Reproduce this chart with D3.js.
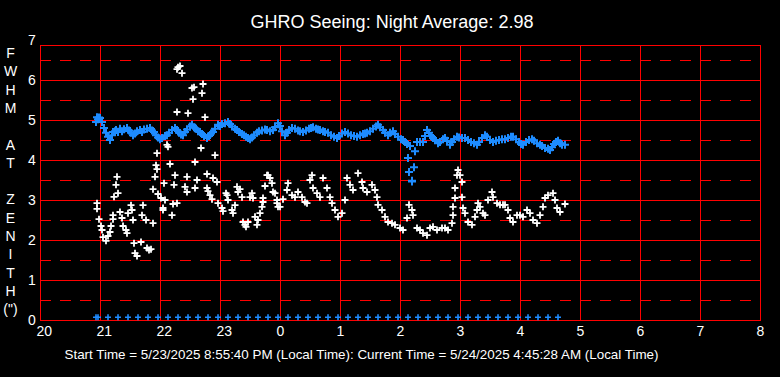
<!DOCTYPE html>
<head>
  <meta charset="utf-8">
  <script src="https://d3js.org/d3.v7.min.js"></script>
  <style>
    body { margin:0; background:#000; }
    svg { display:block; }
    text { font-family: "Liberation Sans", Arial, sans-serif; }
  </style>
</head>
<body>
<script>
  var title = "GHRO Seeing: Night Average: 2.98";
  var footer = "Start Time = 5/23/2025 8:55:40 PM (Local Time): Current Time = 5/24/2025 4:45:28 AM (Local Time)";
  var yLabelLines = ["F", "W", "H", "M", "", "A", "T", "", "Z", "E", "N", "I", "T", "H", "(\")"];
  var hourLabels = [20, 21, 22, 23, 0, 1, 2, 3, 4, 5, 6, 7, 8];
  var yTicks = [0, 1, 2, 3, 4, 5, 6, 7];

  // time = minutes after 20:00 local, value = FWHM (arcsec)
  var bluePoints = [
    [56,4.95],[57,5.07],[58,5.02],[59,5.06],[60,5.05],[62,4.95],[64,4.8],[66,4.68],[68,4.58],[70,4.5],
    [72,4.62],[73,4.7],[75,4.72],[76,4.75],[78,4.7],[80,4.78],[82,4.72],[84,4.77],[87,4.8],[89,4.74],
    [91,4.68],[93,4.62],[95,4.66],[97,4.72],[100,4.75],[102,4.7],[104,4.76],[107,4.78],[110,4.8],[112,4.74],
    [114,4.7],[116,4.62],[118,4.56],[120,4.52],[122,4.55],[125,4.6],[127,4.62],[129,4.68],[132,4.75],[135,4.8],
    [137,4.75],[139,4.68],[141,4.64],[143,4.62],[145,4.7],[147,4.76],[150,4.84],[152,4.88],[154,4.82],[156,4.78],
    [158,4.72],[160,4.7],[162,4.65],[164,4.6],[167,4.55],[169,4.6],[171,4.66],[173,4.7],[175,4.78],[178,4.88],
    [180,4.85],[182,4.9],[185,4.92],[188,4.95],[190,4.9],[192,4.84],[195,4.78],[197,4.75],[199,4.7],[202,4.65],
    [204,4.62],[206,4.58],[208,4.55],[210,4.52],[212,4.56],[214,4.62],[217,4.68],[219,4.72],[222,4.74],[225,4.76],
    [227,4.75],[230,4.72],[233,4.75],[235,4.82],[238,4.92],[240,4.85],[242,4.72],[245,4.62],[247,4.68],[249,4.75],
    [252,4.8],[255,4.78],[258,4.74],[260,4.72],[263,4.7],[266,4.74],[269,4.78],[271,4.8],[273,4.82],[276,4.78],
    [278,4.76],[280,4.75],[283,4.72],[285,4.7],[288,4.68],[291,4.62],[294,4.58],[297,4.55],[299,4.6],[302,4.66],
    [305,4.7],[308,4.66],[311,4.62],[314,4.6],[317,4.58],[320,4.62],[323,4.65],[325,4.66],[327,4.68],[330,4.72],
    [333,4.78],[336,4.84],[338,4.88],[340,4.82],[343,4.75],[345,4.68],[348,4.62],[350,4.68],[353,4.72],[355,4.65],
    [358,4.58],[361,4.52],[363,4.5],[365,4.45],[367,4.4],[370,4.35],[375,4.22],[368,4.05],[374,3.82],[369,3.7],
    [372,3.48],[372,3.46],[377,4.45],[380,4.45],[383,4.45],[385,4.6],[387,4.75],[389,4.68],[391,4.6],[393,4.55],
    [395,4.5],[398,4.42],[400,4.45],[403,4.52],[405,4.55],[407,4.48],[410,4.38],[412,4.45],[414,4.52],[417,4.58],
    [419,4.56],[422,4.55],[425,4.55],[428,4.5],[431,4.45],[434,4.42],[437,4.38],[439,4.45],[442,4.55],[445,4.62],
    [447,4.58],[450,4.5],[453,4.45],[456,4.48],[459,4.5],[462,4.52],[465,4.52],[468,4.55],[471,4.58],[473,4.58],
    [476,4.52],[479,4.45],[481,4.4],[483,4.38],[486,4.45],[489,4.5],[492,4.52],[494,4.48],[497,4.42],[500,4.38],
    [502,4.35],[505,4.3],[508,4.28],[510,4.25],[512,4.32],[514,4.4],[516,4.45],[518,4.48],[520,4.42],[522,4.38],
    [525,4.38]
  ];

  var whitePoints = [
    [57,2.92],[57,2.78],[59,2.52],[61,2.35],[62,2.25],[63,2.07],[66,1.98],[68,2.1],[70,2.2],[71,2.35],
    [73,2.52],[73,2.62],[74,3.08],[76,3.38],[77,3.58],[78,3.17],[80,2.7],[82,2.55],[83,2.35],[86,2.25],
    [87,2.17],[88,2.67],[91,2.87],[92,2.75],[93,2.5],[94,1.92],[95,1.67],[97,1.6],[101,1.95],[102,2.62],
    [103,2.87],[106,2.5],[107,1.8],[109,1.75],[111,1.77],[113,2.42],[113,3.27],[115,3.58],[116,3.87],[117,3.77],
    [117,4.17],[118,3.15],[121,3.05],[123,2.8],[123,2.75],[124,3.42],[125,3.0],[127,4.38],[128,4.33],[130,3.9],
    [132,2.62],[133,2.9],[134,3.38],[135,3.62],[137,2.92],[137,5.2],[137,6.27],[138,6.32],[140,6.35],[142,6.17],
    [145,3.33],[147,3.58],[147,3.2],[148,5.17],[152,5.8],[153,5.52],[154,5.82],[155,3.95],[155,3.3],[157,3.5],
    [161,4.3],[162,5.67],[163,5.9],[165,5.07],[167,3.65],[167,3.3],[168,3.22],[170,3.12],[172,3.02],[173,3.55],
    [175,4.12],[177,3.45],[178,2.92],[182,2.8],[183,2.72],[186,3.17],[187,3.12],[188,3.0],[192,2.75],[193,2.67],
    [195,2.87],[197,3.33],[198,3.2],[200,3.27],[202,3.07],[203,2.45],[205,2.38],[206,2.33],[208,2.45],[210,3.07],
    [212,3.17],[213,3.05],[215,2.58],[217,2.38],[218,2.5],[220,2.67],[222,2.83],[223,2.95],[223,3.05],[225,3.35],
    [227,3.62],[228,3.62],[230,3.55],[232,3.42],[233,3.2],[235,3.17],[237,3.0],[237,2.92],[238,2.83],[240,2.83],
    [243,3.02],[247,3.25],[248,3.42],[252,3.12],[255,3.07],[258,3.2],[262,3.07],[265,2.95],[267,2.92],[270,3.5],
    [272,3.62],[273,3.3],[277,3.17],[280,3.07],[283,3.55],[287,3.3],[290,3.07],[292,2.92],[295,2.75],[298,2.58],
    [302,2.67],[305,3.0],[307,3.55],[310,3.38],[313,3.25],[318,3.67],[322,3.45],[323,3.3],[327,3.2],[332,3.38],
    [335,3.25],[337,3.07],[338,2.88],[342,2.75],[345,2.58],[348,2.45],[352,2.42],[355,2.38],[360,2.3],[363,2.25],
    [367,2.55],[369,2.88],[372,2.75],[373,2.62],[377,2.3],[380,2.25],[383,2.17],[387,2.12],[390,2.3],[393,2.33],
    [397,2.25],[402,2.3],[405,2.3],[408,2.25],[412,2.42],[413,2.62],[413,2.83],[415,3.05],[415,3.3],[417,3.62],
    [418,3.75],[420,3.62],[422,3.45],[422,3.07],[423,2.8],[425,2.67],[428,2.45],[432,2.38],[435,2.58],[437,2.75],
    [438,2.92],[440,2.83],[443,2.67],[445,2.62],[448,3.0],[452,3.2],[453,3.07],[457,2.92],[460,2.88],[463,2.88],
    [465,2.88],[468,2.75],[470,2.55],[473,2.45],[477,2.62],[480,2.62],[483,2.58],[487,2.75],[490,2.67],[493,2.5],
    [497,2.42],[500,2.62],[503,2.83],[505,3.05],[508,3.12],[513,3.17],[515,3.0],[517,2.8],[520,2.7],[525,2.9]
  ];

  // bottom row of blue markers
  var baseTimes = [56,58,68,78,88,98,108,118,128,138,148,158,168,178,188,198,208,218,228,238,248,258,268,278,
                   288,298,308,318,328,338,348,358,368,378,388,398,408,418,428,438,448,458,468,478,488,498,508,518];
  var baseLevel = 0.07;

  var width = 780, height = 377;
  var BLUE = "#1e8cff";
  var RED = "#ff0000";

  var svg = d3.select("body").append("svg")
      .attr("width", width).attr("height", height)
      .style("background", "#000");

  var x = d3.scaleLinear().domain([0, 720]).range([40, 760]);
  var y = d3.scaleLinear().domain([0, 7]).range([320, 40]);
  var plotTop = y(6.875);

  // grid
  var grid = svg.append("g").attr("stroke", RED).attr("stroke-width", 1)
      .attr("shape-rendering", "crispEdges").attr("fill", "none");

  grid.selectAll(".half").data(d3.range(0.5, 7, 1)).join("line")
      .attr("x1", x(0)).attr("x2", x(720))
      .attr("y1", d => y(d)).attr("y2", d => y(d))
      .attr("stroke-dasharray", "11,9");
  grid.selectAll(".whole").data(d3.range(1, 7)).join("line")
      .attr("x1", x(0)).attr("x2", x(720))
      .attr("y1", d => y(d)).attr("y2", d => y(d));
  grid.selectAll(".hour").data(d3.range(60, 720, 60)).join("line")
      .attr("x1", d => x(d)).attr("x2", d => x(d))
      .attr("y1", plotTop).attr("y2", y(0));
  grid.append("rect")
      .attr("x", x(0)).attr("y", plotTop)
      .attr("width", x(720) - x(0)).attr("height", y(0) - plotTop);

  // axes
  var xAxis = d3.axisBottom(x)
      .tickValues(d3.range(0, 721, 60))
      .tickSize(0)
      .tickFormat((d, i) => hourLabels[i]);
  var gx = svg.append("g").attr("transform", "translate(0," + y(0) + ")").call(xAxis);
  gx.select(".domain").remove();
  gx.attr("font-family", null).attr("font-size", 14);
  gx.selectAll("text").attr("fill", "#fff").attr("text-anchor", "start")
      .attr("x", -4).attr("y", 6).attr("dy", "0.71em");

  var yAxis = d3.axisLeft(y).tickValues(yTicks).tickSize(0).tickFormat(d3.format("d"));
  var gy = svg.append("g").call(yAxis);
  gy.select(".domain").remove();
  gy.attr("font-family", null).attr("font-size", 14);
  gy.selectAll("text").attr("fill", "#fff").attr("text-anchor", "start")
      .attr("x", 28).attr("dy", "0.35em");

  // vertical axis title, one letter per line
  svg.append("g").selectAll("text").data(yLabelLines).join("text")
      .attr("x", 10.5).attr("y", (d, i) => 53 + i * 18.3)
      .attr("dy", "0.36em").attr("text-anchor", "middle")
      .attr("font-size", 14).attr("fill", "#fff")
      .text(d => d);

  svg.append("text").attr("x", 392).attr("y", 28)
      .attr("text-anchor", "middle").attr("font-size", 18).attr("fill", "#fff")
      .text(title);

  svg.append("text").attr("x", 361.5).attr("y", 359)
      .attr("text-anchor", "middle").attr("font-size", 13.4).attr("fill", "#fff")
      .text(footer);

  // markers
  svg.append("g").selectAll("path").data(bluePoints).join("path")
      .attr("d", "M-4,0H4M0,-4V4")
      .attr("transform", d => "translate(" + x(d[0]) + "," + y(d[1]) + ")")
      .attr("stroke", BLUE).attr("stroke-width", 2);

  svg.append("g").selectAll("path").data(baseTimes).join("path")
      .attr("d", "M-3,0H3M0,-3V3")
      .attr("transform", d => "translate(" + x(d) + "," + (y(baseLevel)) + ")")
      .attr("stroke", BLUE).attr("stroke-width", 1.6);

  svg.append("g").selectAll("path").data(whitePoints).join("path")
      .attr("d", "M-3.5,0H3.5M0,-3.5V3.5")
      .attr("transform", d => "translate(" + x(d[0]) + "," + y(d[1]) + ")")
      .attr("stroke", "#fff").attr("stroke-width", 1.8);
</script>
</body>
